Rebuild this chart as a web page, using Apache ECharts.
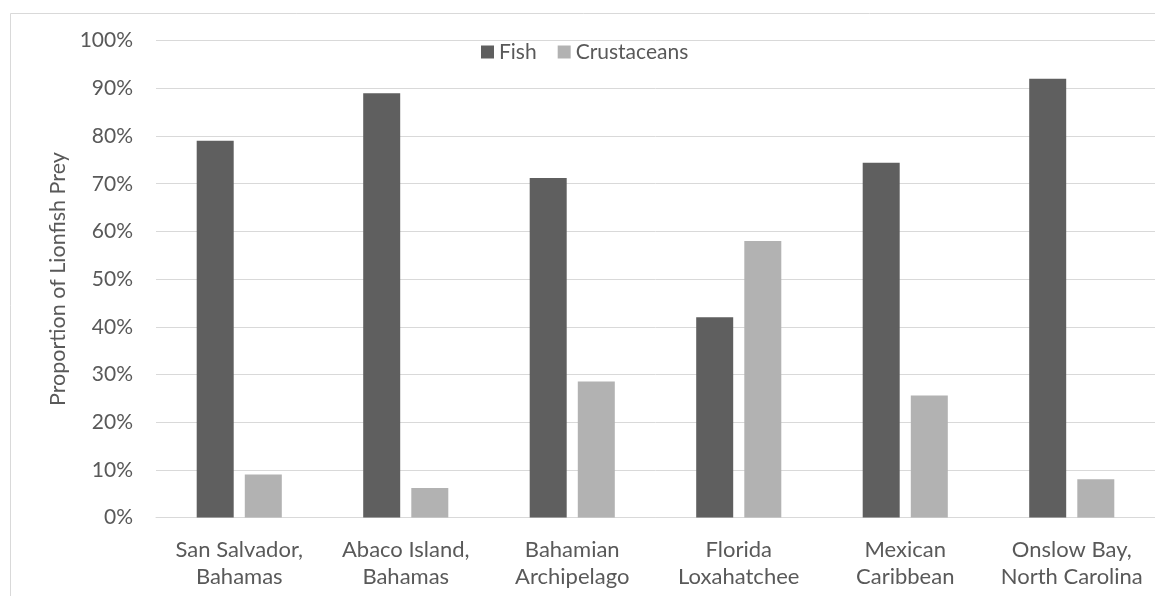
<!DOCTYPE html>
<html>
<head>
<meta charset="utf-8">
<script src="https://cdn.jsdelivr.net/npm/echarts@6/dist/echarts.min.js"></script>
<style>
  html, body { margin: 0; padding: 0; background: #ffffff; }
  #chart { width: 1155px; height: 596px; }
</style>
</head>
<body>
<div id="chart"></div>
<script>
// Prey composition of lionfish diets by study location
const locations = [
  'San Salvador,\nBahamas',
  'Abaco Island,\nBahamas',
  'Bahamian\nArchipelago',
  'Florida\nLoxahatchee',
  'Mexican\nCaribbean',
  'Onslow Bay,\nNorth Carolina'
];
const fishShare = [79, 89, 71.2, 42, 74.4, 92];
const crustaceanShare = [9, 6.2, 28.5, 58, 25.6, 8];
const yTicks = { min: 0, max: 100, interval: 10 };

const FONT = 'Lato';
const TEXT = '#595959';
const GRID = '#d9d9d9';

const chart = echarts.init(document.getElementById('chart'), null, { renderer: 'canvas' });

chart.setOption({
  animation: false,
  backgroundColor: '#ffffff',
  textStyle: { fontFamily: FONT, color: TEXT },
  graphic: [{
    type: 'rect',
    shape: { x: 10.5, y: 13.5, width: 1300, height: 800 },
    style: { fill: 'none', stroke: GRID, lineWidth: 1 },
    silent: true,
    z: -10
  }],
  legend: {
    left: 481,
    top: 41,
    padding: 0,
    itemWidth: 13,
    itemHeight: 13,
    itemGap: 21,
    icon: 'rect',
    textStyle: { fontFamily: FONT, fontSize: 21, color: TEXT, lineHeight: 22 },
    data: ['Fish', 'Crustaceans']
  },
  grid: { left: 156, right: -3, top: 40.7, bottom: 78.5, containLabel: false },
  xAxis: {
    type: 'category',
    data: locations,
    axisTick: { show: false },
    axisLine: { show: true, lineStyle: { color: GRID, width: 1 } },
    axisLabel: {
      interval: 0,
      margin: 19,
      fontFamily: FONT,
      fontSize: 22,
      lineHeight: 27,
      color: TEXT,
      align: 'center'
    }
  },
  yAxis: {
    type: 'value',
    min: yTicks.min,
    max: yTicks.max,
    interval: yTicks.interval,
    name: 'Proportion of Lionfish Prey',
    nameLocation: 'middle',
    nameGap: 85,
    nameTextStyle: { fontFamily: FONT, fontSize: 21.5, color: TEXT },
    axisLine: { show: false },
    axisTick: { show: false },
    axisLabel: {
      margin: 23,
      fontFamily: FONT,
      fontSize: 21,
      color: TEXT,
      formatter: v => v + '%'
    },
    splitLine: { show: true, lineStyle: { color: GRID, width: 1 } }
  },
  series: [
    {
      name: 'Fish',
      type: 'bar',
      data: fishShare,
      barWidth: 37,
      barGap: '30%',
      itemStyle: { color: '#5f5f5f' }
    },
    {
      name: 'Crustaceans',
      type: 'bar',
      data: crustaceanShare,
      barWidth: 37,
      barGap: '30%',
      itemStyle: { color: '#b2b2b2' }
    }
  ]
});
</script>
</body>
</html>
